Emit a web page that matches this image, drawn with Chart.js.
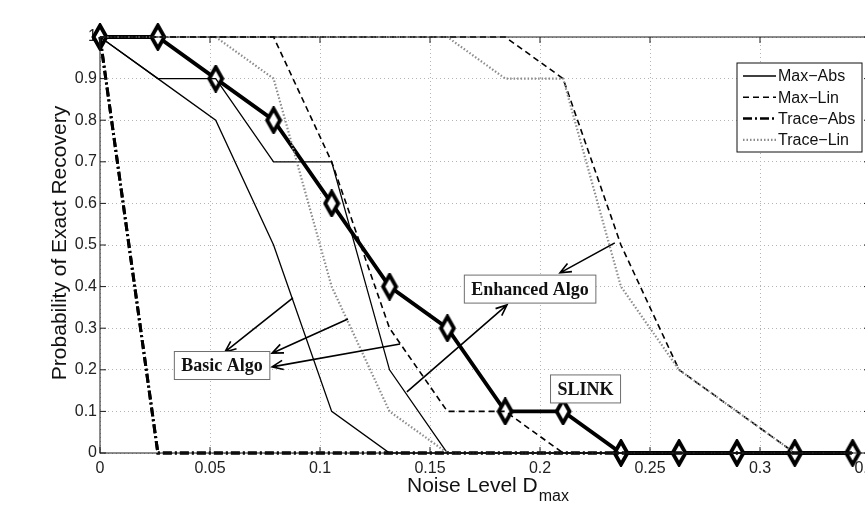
<!DOCTYPE html>
<html>
<head>
<meta charset="utf-8">
<script src="https://cdn.jsdelivr.net/npm/chart.js@4/dist/chart.umd.min.js"></script>
<style>
html, body { margin: 0; padding: 0; background: #fff; overflow: hidden; }
#wrap { width: 900px; height: 506px; }
</style>
</head>
<body>
<div id="wrap"><canvas id="chart" width="900" height="506"></canvas></div>
<script>
// noise levels D_max (x) and probability of exact recovery (y)
const noise = [0, 0.0263, 0.0526, 0.0789, 0.1053, 0.1316, 0.1579, 0.1842, 0.2105, 0.2368, 0.2632, 0.2895, 0.3158, 0.3421]

const slink         = [1, 1, 0.9, 0.8, 0.6, 0.4, 0.3, 0.1, 0.1, 0, 0, 0, 0, 0]
const basicMaxAbs   = [1, 0.9, 0.8, 0.5, 0.1, 0, 0, 0, 0, 0, 0, 0, 0, 0]
const basicMaxLin   = [1, 1, 1, 1, 0.7, 0.3, 0.1, 0.1, 0, 0, 0, 0, 0, 0]
const basicTraceAbs = [1, 0, 0, 0, 0, 0, 0, 0, 0, 0, 0, 0, 0, 0]
const basicTraceLin = [1, 1, 1, 0.9, 0.4, 0.1, 0, 0, 0, 0, 0, 0, 0, 0]
const enhMaxAbs     = [1, 0.9, 0.9, 0.7, 0.7, 0.2, 0, 0, 0, 0, 0, 0, 0, 0]
const enhMaxLin     = [1, 1, 1, 1, 1, 1, 1, 1, 0.9, 0.5, 0.2, 0.1, 0, 0]
const enhTraceAbs   = [1, 0, 0, 0, 0, 0, 0, 0, 0, 0, 0, 0, 0, 0]
const enhTraceLin   = [1, 1, 1, 1, 1, 1, 1, 0.9, 0.9, 0.4, 0.2, 0.1, 0, 0]

const xTicks = [0, 0.05, 0.1, 0.15, 0.2, 0.25, 0.3, 0.35]
const yTicks = [0, 0.1, 0.2, 0.3, 0.4, 0.5, 0.6, 0.7, 0.8, 0.9, 1]
const legendNames = ['Max\u2212Abs', 'Max\u2212Lin', 'Trace\u2212Abs', 'Trace\u2212Lin']

// text boxes and arrows, in data units
const notes = [
        { text: 'Basic Algo', x: 0.0555, y: 0.2103 },
        { text: 'Enhanced Algo', x: 0.1955, y: 0.394 },
        { text: 'SLINK', x: 0.2207, y: 0.154 }
]
const arrows = [
        [0.0877, 0.373, 0.0568, 0.243],
        [0.1127, 0.322, 0.0782, 0.240],
        [0.1364, 0.262, 0.0782, 0.207],
        [0.2340, 0.505, 0.2091, 0.433],
        [0.1395, 0.147, 0.1850, 0.356]
]

const styles = [
        { width: 1.3, dash: [], color: '#000' },
        { width: 1.6, dash: [6, 4], color: '#000' },
        { width: 3, dash: [9, 3, 2, 3], color: '#000' },
        { width: 2.2, dash: [1.5, 2], color: '#8c8c8c' }
]

function pts(ys) {
        return ys.map((y, i) => ({ x: noise[i], y: y }))
}

function line(label, ys, s) {
        return {
                label: label,
                data: pts(ys),
                borderColor: s.color,
                borderWidth: s.width,
                borderDash: s.dash,
                pointRadius: 0,
                fill: false,
                tension: 0,
                clip: false
        }
}

// tall MATLAB-like diamond marker
const diamond = document.createElement('canvas')
diamond.width = 18
diamond.height = 28
{
        const d = diamond.getContext('2d')
        d.beginPath()
        d.moveTo(9, 2.5)
        d.lineTo(15.5, 14)
        d.lineTo(9, 25.5)
        d.lineTo(2.5, 14)
        d.closePath()
        d.fillStyle = '#fff'
        d.fill()
        d.lineWidth = 3.8
        d.lineJoin = 'miter'
        d.strokeStyle = '#000'
        d.stroke()
}

const datasets = [
        line(legendNames[0], basicMaxAbs, styles[0]),
        line(legendNames[1], basicMaxLin, styles[1]),
        line(legendNames[3], basicTraceLin, styles[3]),
        line(legendNames[2], basicTraceAbs, styles[2]),
        line(legendNames[0], enhMaxAbs, styles[0]),
        line(legendNames[3], enhTraceLin, styles[3]),
        line(legendNames[1], enhMaxLin, styles[1]),
        line(legendNames[2], enhTraceAbs, styles[2]),
        {
                label: 'SLINK',
                data: pts(slink),
                borderColor: '#000',
                borderWidth: 3.8,
                pointStyle: diamond,
                pointRadius: 8,
                tension: 0,
                clip: false
        }
]

function arrow(ctx, x1, y1, x2, y2) {
        const a = Math.atan2(y2 - y1, x2 - x1)
        const h = 12
        ctx.beginPath()
        ctx.moveTo(x1, y1)
        ctx.lineTo(x2, y2)
        ctx.moveTo(x2 - h * Math.cos(a - 0.4), y2 - h * Math.sin(a - 0.4))
        ctx.lineTo(x2, y2)
        ctx.lineTo(x2 - h * Math.cos(a + 0.4), y2 - h * Math.sin(a + 0.4))
        ctx.stroke()
}

const decor = {
        id: 'decor',
        afterDatasetsDraw(chart) {
                const ctx = chart.ctx
                const a = chart.chartArea
                const xs = chart.scales.x
                const ys = chart.scales.y
                ctx.save()
                ctx.setLineDash([])

                // axes box with inward ticks
                ctx.strokeStyle = '#1a1a1a'
                ctx.lineWidth = 1
                ctx.strokeRect(a.left, a.top, a.right - a.left, a.bottom - a.top)
                ctx.beginPath()
                xTicks.forEach(v => {
                        const px = xs.getPixelForValue(v)
                        ctx.moveTo(px, a.bottom); ctx.lineTo(px, a.bottom - 6)
                        ctx.moveTo(px, a.top); ctx.lineTo(px, a.top + 6)
                })
                yTicks.forEach(v => {
                        const py = ys.getPixelForValue(v)
                        ctx.moveTo(a.left, py); ctx.lineTo(a.left + 6, py)
                        ctx.moveTo(a.right, py); ctx.lineTo(a.right - 6, py)
                })
                ctx.stroke()

                // arrows
                ctx.lineWidth = 1.6
                ctx.strokeStyle = '#000'
                arrows.forEach(r => {
                        arrow(ctx, xs.getPixelForValue(r[0]), ys.getPixelForValue(r[1]),
                                xs.getPixelForValue(r[2]), ys.getPixelForValue(r[3]))
                })

                // text boxes
                ctx.font = 'bold 18px "Liberation Serif", "Times New Roman", serif'
                ctx.textAlign = 'center'
                ctx.textBaseline = 'middle'
                notes.forEach(n => {
                        const cx = xs.getPixelForValue(n.x)
                        const cy = ys.getPixelForValue(n.y)
                        const w = ctx.measureText(n.text).width + 14
                        const h = 28
                        ctx.fillStyle = '#fff'
                        ctx.fillRect(cx - w / 2, cy - h / 2, w, h)
                        ctx.strokeStyle = '#6e6e6e'
                        ctx.lineWidth = 1
                        ctx.strokeRect(cx - w / 2, cy - h / 2, w, h)
                        ctx.fillStyle = '#111'
                        ctx.fillText(n.text, cx, cy + 1)
                })

                // legend
                const lx = a.right - 133
                const ly = a.top + 26
                ctx.fillStyle = '#fff'
                ctx.fillRect(lx, ly, 125, 89)
                ctx.strokeStyle = '#111'
                ctx.lineWidth = 1
                ctx.strokeRect(lx, ly, 125, 89)
                ctx.font = '16px "Liberation Sans", Arial, sans-serif'
                ctx.textAlign = 'left'
                legendNames.forEach((name, i) => {
                        const s = styles[i]
                        const y = ly + 13 + i * 21.3
                        ctx.strokeStyle = s.color
                        ctx.lineWidth = Math.min(s.width, 2.5)
                        ctx.setLineDash(s.dash)
                        ctx.beginPath()
                        ctx.moveTo(lx + 6, y)
                        ctx.lineTo(lx + 39, y)
                        ctx.stroke()
                        ctx.setLineDash([])
                        ctx.fillStyle = '#111'
                        ctx.fillText(name, lx + 41, y + 1)
                })
                ctx.restore()
        },
        afterDraw(chart) {
                const ctx = chart.ctx
                const a = chart.chartArea
                ctx.save()
                ctx.fillStyle = '#111'
                ctx.textBaseline = 'alphabetic'

                // x title with subscript
                const main = 'Noise Level D'
                const sub = 'max'
                ctx.font = '21px "Liberation Sans", Arial, sans-serif'
                const wm = ctx.measureText(main).width
                ctx.textAlign = 'left'
                ctx.fillText(main, 407, 492)
                ctx.font = '16px "Liberation Sans", Arial, sans-serif'
                ctx.fillText(sub, 407 + wm + 1, 501)

                // y title
                ctx.font = '21px "Liberation Sans", Arial, sans-serif'
                ctx.translate(66, (a.top + a.bottom) / 2 - 2)
                ctx.rotate(-Math.PI / 2)
                ctx.textAlign = 'center'
                ctx.fillText('Probability of Exact Recovery', 0, 0)
                ctx.restore()
        }
}

const chart = new Chart(document.getElementById('chart'), {
        type: 'line',
        data: { datasets: datasets },
        options: {
                responsive: false,
                animation: false,
                layout: { padding: { top: 37, right: 30, left: 0, bottom: 0 } },
                plugins: {
                        legend: { display: false },
                        tooltip: { enabled: false }
                },
                scales: {
                        x: {
                                type: 'linear',
                                min: 0,
                                max: 0.35,
                                afterBuildTicks: s => { s.ticks = xTicks.map(v => ({ value: v })) },
                                afterFit: s => { s.height = 53 },
                                ticks: {
                                        callback: v => String(v),
                                        maxRotation: 0,
                                        padding: 6,
                                        color: '#222',
                                        font: { family: '"Liberation Sans", Arial, sans-serif', size: 16 }
                                },
                                grid: { color: '#b4b4b4', lineWidth: 1, drawTicks: false },
                                border: { display: false, dash: [1, 3] }
                        },
                        y: {
                                min: 0,
                                max: 1,
                                afterBuildTicks: s => { s.ticks = yTicks.map(v => ({ value: v })) },
                                afterFit: s => { s.width = 100 },
                                ticks: {
                                        callback: v => String(v),
                                        padding: 3,
                                        color: '#222',
                                        font: { family: '"Liberation Sans", Arial, sans-serif', size: 16 }
                                },
                                grid: { color: '#b4b4b4', lineWidth: 1, drawTicks: false },
                                border: { display: false, dash: [1, 3] }
                        }
                }
        },
        plugins: [decor]
})
</script>
</body>
</html>
